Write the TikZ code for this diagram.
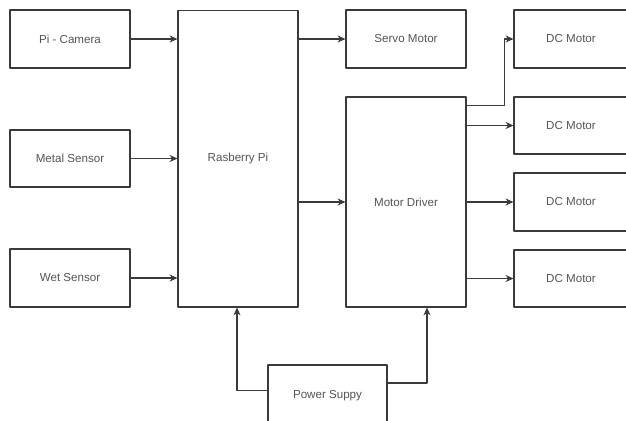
\documentclass[tikz,border=0pt]{standalone}
\usepackage{fontspec}
\setmainfont{Liberation Sans}
\usetikzlibrary{arrows.meta,positioning}
\definecolor{edge}{HTML}{3A3A3A}
\definecolor{label}{HTML}{555555}
\tikzset{
  every picture/.style={line join=round, >=Stealth},
  block/.style={draw=edge, line width=0.6pt, fill=white, text=label, font=\fontsize{6.6}{8}\selectfont, minimum width=2.4cm, inner sep=0pt},
  link/.style={-{Stealth[length=4.5pt,width=4pt]}, draw=edge, line width=0.6pt},
}

\begin{document}
\begin{tikzpicture}[x=0.02cm,y=-0.02cm]
\useasboundingbox (0,0) rectangle (626,420);
% inputs
\node[block,minimum height=1.16cm] (cam) at (70,39) {Pi - Camera};
\node[block,minimum height=1.14cm] (metal) at (70,158.5) {Metal Sensor};
\node[block,minimum height=1.16cm] (wet) at (70,278) {Wet Sensor};
% controller
\node[block,minimum height=5.94cm] (rpi) at (238,158.5) {Rasberry Pi};
% outputs
\node[block,minimum height=1.16cm] (servo) at (406,39) {Servo Motor};
\node[block,minimum height=4.2cm] (driver) at (406,202) {Motor Driver};
\node[block,minimum width=2.28cm,minimum height=1.16cm] (dca) at (571,39) {DC Motor};
\node[block,minimum width=2.28cm,minimum height=1.14cm] (dcb) at (571,125.5) {DC Motor};
\node[block,minimum width=2.28cm,minimum height=1.16cm] (dcc) at (571,202) {DC Motor};
\node[block,minimum width=2.28cm,minimum height=1.14cm] (dcd) at (571,278.5) {DC Motor};
% supply
\node[block,minimum width=2.38cm,minimum height=1.22cm] (power) at (327.5,395.5) {Power Suppy};

\draw[link] (cam.east) -- (cam.east -| rpi.west);
\draw[link] (metal.east) -- (metal.east -| rpi.west);
\draw[link] (wet.east) -- (wet.east -| rpi.west);
\draw[link] (servo.west -| rpi.east) -- (servo.west);
\draw[link] (driver.west -| rpi.east) -- (driver.west);
\draw[link] ([yshift=-0.18cm]driver.north east) -- ++(38,0) |- (dca.west);
\draw[link] (driver.east |- dcb.west) -- (dcb.west);
\draw[link] (driver.east |- dcc.west) -- (dcc.west);
\draw[link] (driver.east |- dcd.west) -- (dcd.west);
\draw[link] ([yshift=0.1cm]power.west) -| ([xshift=-0.02cm]rpi.south);
\draw[link] ([yshift=0.25cm]power.east) -| ([xshift=0.42cm]driver.south);
\end{tikzpicture}
\end{document}
